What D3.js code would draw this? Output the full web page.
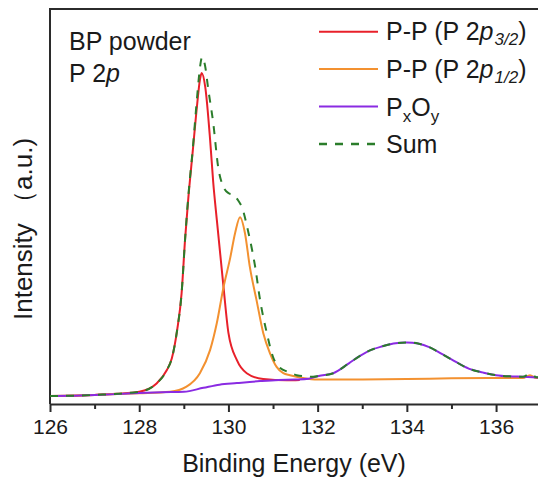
<html><head>
<title>BP powder P 2p</title>
<script src="https://d3js.org/d3.v7.min.js"></script>
<style>
  body { margin: 0; background: #fff; }
  svg text { font-family: "Liberation Sans", Arial, sans-serif; fill: #1a1a1a; }
  .frame line { stroke: #2b2b2b; stroke-width: 2; }
  .x.axis .domain { stroke: #2b2b2b; stroke-width: 2; }
  .x.axis line { stroke: #2b2b2b; stroke-width: 2; }
  .x.axis text { font-size: 21px; font-family: "Liberation Sans", Arial, sans-serif; fill: #1a1a1a; }
  .fit { fill: none; stroke-width: 2; }
</style>
</head>
<body>
<svg id="xps" width="538" height="481"></svg>
<script>

// 1. Data (binding energy in eV, intensity in a.u.)
let pp32 = [[126,2.0],[127,2.3],[127.5,2.6],[128,3.1],[128.39,5.2],[128.62,8.6],[128.73,11.5],
  [128.85,18.7],[128.95,28.0],[129.03,42],[129.1,52],[129.2,64],[129.3,76],[129.36,82],[129.4,83.8],
  [129.48,80.3],[129.59,66.8],[129.66,56],[129.74,46.6],[129.89,29.6],[130.0,18.0],[130.19,11.1],
  [130.41,7.8],[130.78,6.3],[131.31,6.0],[131.6,6.1]];

let pp12 = [[126,2.0],[127,2.3],[128,2.7],[128.69,3.1],[129.06,4.4],[129.36,7.8],[129.59,13.7],
  [129.74,20.5],[129.89,29.6],[130.04,37],[130.15,43.3],[130.26,47.3],[130.37,43.3],[130.48,34.7],
  [130.63,26.3],[130.78,18.0],[130.93,12.9],[131.08,9.4],[131.23,7.8],[131.38,7.3],[131.67,6.6],
  [132,6.2],[133,6.2],[134,6.3],[135,6.5],[136,6.6],[136.6,6.6],[136.76,7.3],[136.9,6.6],[137,6.6]];

let pxoy = [[126,2.0],[126.5,2.1],[127,2.3],[127.5,2.5],[128,2.8],[128.5,3.0],[129,3.1],[129.44,4.1],
  [129.8,4.9],[130.19,5.3],[130.71,5.8],[131.12,6.1],[131.5,6.2],[131.8,6.4],[132.02,7.1],[132.35,7.8],
  [132.7,10.3],[132.95,12.2],[133.2,13.7],[133.45,14.6],[133.7,15.3],[134.0,15.6],[134.25,15.3],
  [134.5,14.4],[134.75,12.9],[135.0,11.3],[135.4,8.9],[135.7,8.0],[136.0,7.3],[136.3,7.0],[136.6,6.9],[137,6.7]];

let sumFit = [[126,2.0],[127,2.3],[128,3.1],[128.39,5.2],[128.62,8.6],[128.73,11.5],[128.85,18.7],
  [128.95,28.0],[129.03,42],[129.1,52.5],[129.2,64.5],[129.3,78],[129.36,85],[129.41,87.8],[129.47,86],
  [129.55,79.5],[129.66,71.1],[129.77,60.0],[129.89,54.9],[130.0,53.4],[130.12,52.9],[130.22,51.5],
  [130.3,49.9],[130.45,43.3],[130.6,34.7],[130.71,26.3],[130.86,18.0],[131.0,11.9],[131.16,9.1],
  [131.35,8.1],[131.53,7.3],[131.9,6.9],[132.02,7.1],[132.35,7.8],[132.7,10.3],[132.95,12.2],
  [133.2,13.7],[133.45,14.6],[133.7,15.3],[134.0,15.6],[134.25,15.3],[134.5,14.4],[134.75,12.9],
  [135.0,11.3],[135.4,8.9],[135.7,8.0],[136.0,7.3],[136.3,7.0],[136.6,6.9],[136.76,7.6],[136.9,6.8],[137,6.7]];

let majorTicks = [126, 128, 130, 132, 134, 136];
let minorTicks = [127, 129, 131, 133, 135];

// 2. Housekeeping
let svg = d3.select("svg#xps");
let margin = { top: 9, right: 0, bottom: 77, left: 50 };
let width = svg.attr("width") - margin.left - margin.right;
let height = svg.attr("height") - margin.top - margin.bottom;

let xScale = d3.scaleLinear().domain([126, 136.94]).range([margin.left, margin.left + width]);
let yScale = d3.scaleLinear().domain([0, 100]).range([margin.top + height, margin.top]);

// clip so lines stop at the plot edge
svg.append("clipPath").attr("id", "plotclip")
  .append("rect").attr("x", margin.left).attr("y", margin.top).attr("width", width).attr("height", height);

// 3. Axes: major ticks labelled, minor ticks short
let xAxis = d3.axisBottom(xScale).tickValues(majorTicks).tickSize(8).tickSizeOuter(0).tickPadding(7);
svg.append("g")
  .attr("class", "x axis")
  .attr("transform", "translate(0," + (margin.top + height) + ")")
  .call(xAxis);

let xMinor = d3.axisBottom(xScale).tickValues(minorTicks).tickSize(5).tickFormat("");
svg.append("g")
  .attr("class", "x axis")
  .attr("transform", "translate(0," + (margin.top + height) + ")")
  .call(xMinor)
  .select(".domain").remove();

let frame = svg.append("g").attr("class", "frame");
frame.append("line").attr("x1", margin.left).attr("x2", margin.left)
  .attr("y1", margin.top - 1).attr("y2", margin.top + height);
frame.append("line").attr("x1", margin.left - 1).attr("x2", margin.left + width)
  .attr("y1", margin.top).attr("y2", margin.top);

// axis titles
svg.append("text")
  .attr("x", margin.left + width / 2).attr("y", 472)
  .attr("text-anchor", "middle").style("font-size", "25px")
  .text("Binding Energy (eV)");

svg.append("text")
  .attr("transform", "translate(32," + 229 + ") rotate(-90)")
  .attr("text-anchor", "middle").style("font-size", "26px")
  .text("Intensity （a.u.)");

// 4. Line generator and fitted curves
let line = d3.line()
  .x(d => xScale(d[0]))
  .y(d => yScale(d[1]))
  .curve(d3.curveMonotoneX);

let series = [
  { name: "p32", data: pp32, color: "#e8202a", dash: null },
  { name: "p12", data: pp12, color: "#f39130", dash: null },
  { name: "pxoy", data: pxoy, color: "#8a2be2", dash: null },
  { name: "sum", data: sumFit, color: "#2b7d2b", dash: "8,8" }
];

let plot = svg.append("g").attr("clip-path", "url(#plotclip)");
plot.selectAll("path.fit")
  .data(series)
  .join("path")
  .attr("class", "fit")
  .attr("d", d => line(d.data))
  .attr("stroke", d => d.color)
  .attr("stroke-width", d => d.dash ? 2.5 : 2)
  .attr("stroke-dasharray", d => d.dash);

// 5. Sample label
let label = svg.append("g").style("font-size", "25px");
label.append("text").attr("x", 69).attr("y", 50).text("BP powder");
let l2 = label.append("text").attr("x", 69).attr("y", 82);
l2.append("tspan").text("P 2");
l2.append("tspan").style("font-style", "italic").text("p");

// 6. Legend
let legend = svg.append("g").attr("class", "legend");
let legendY = [31.7, 69, 106.5, 144];
series.forEach(function(s, i) {
  legend.append("line")
    .attr("x1", 319).attr("x2", 378)
    .attr("y1", legendY[i]).attr("y2", legendY[i])
    .attr("stroke", s.color).attr("stroke-width", s.dash ? 2.5 : 2)
    .attr("stroke-dasharray", s.dash);
});

function subLabel(y, sub) {
  let t = legend.append("text").attr("x", 386).attr("y", y).style("font-size", "25px");
  t.append("tspan").text("P-P (P 2");
  t.append("tspan").style("font-style", "italic").text("p");
  t.append("tspan").style("font-style", "italic").style("font-size", "17px").attr("dy", 5).attr("dx", 1).text(sub);
  t.append("tspan").attr("dy", -5).text(")");
}
subLabel(40, "3/2");
subLabel(78, "1/2");

let t3 = legend.append("text").attr("x", 386).attr("y", 115.5).style("font-size", "25px");
t3.append("tspan").text("P");
t3.append("tspan").style("font-size", "17px").attr("dy", 6).text("x");
t3.append("tspan").attr("dy", -6).text("O");
t3.append("tspan").style("font-size", "17px").attr("dy", 6).text("y");

legend.append("text").attr("x", 386).attr("y", 153).style("font-size", "25px").text("Sum");

</script>
</body>
</html>
